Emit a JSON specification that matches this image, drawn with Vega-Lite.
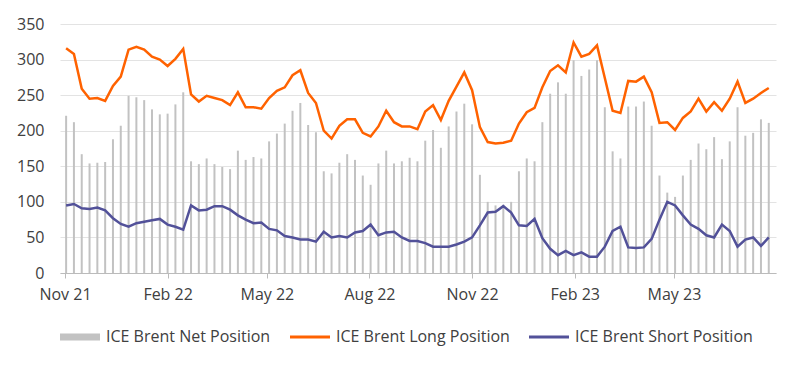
{
  "$schema": "https://vega.github.io/schema/vega-lite/v6.json",
  "width": 716,
  "height": 249,
  "autosize": {"type": "none"},
  "padding": {"left": 60, "top": 24, "right": 24, "bottom": 95},
  "background": "white",
  "config": {
    "view": {"stroke": null},
    "font": "Open Sans",
    "axis": {"labelFont": "Open Sans", "labelColor": "#404040", "labelFontSize": 16}
  },
  "data": {"values": [
    {"date": "2021-11-02", "net": 221, "long": 316, "short": 95},
    {"date": "2021-11-09", "net": 212, "long": 308, "short": 97},
    {"date": "2021-11-16", "net": 167, "long": 259, "short": 91},
    {"date": "2021-11-23", "net": 154, "long": 245, "short": 90},
    {"date": "2021-11-30", "net": 155, "long": 246, "short": 92},
    {"date": "2021-12-07", "net": 156, "long": 242, "short": 88},
    {"date": "2021-12-14", "net": 188, "long": 263, "short": 77},
    {"date": "2021-12-21", "net": 207, "long": 276, "short": 69},
    {"date": "2021-12-28", "net": 249, "long": 314, "short": 65},
    {"date": "2022-01-04", "net": 247, "long": 318, "short": 70},
    {"date": "2022-01-11", "net": 243, "long": 314, "short": 72},
    {"date": "2022-01-18", "net": 230, "long": 304, "short": 74},
    {"date": "2022-01-25", "net": 223, "long": 300, "short": 76},
    {"date": "2022-02-01", "net": 224, "long": 291, "short": 68},
    {"date": "2022-02-08", "net": 237, "long": 301, "short": 65},
    {"date": "2022-02-15", "net": 254, "long": 315, "short": 61},
    {"date": "2022-02-22", "net": 157, "long": 251, "short": 95},
    {"date": "2022-03-01", "net": 153, "long": 241, "short": 88},
    {"date": "2022-03-08", "net": 161, "long": 249, "short": 89},
    {"date": "2022-03-15", "net": 153, "long": 246, "short": 94},
    {"date": "2022-03-22", "net": 149, "long": 243, "short": 94},
    {"date": "2022-03-29", "net": 146, "long": 236, "short": 89},
    {"date": "2022-04-05", "net": 172, "long": 254, "short": 81},
    {"date": "2022-04-12", "net": 159, "long": 233, "short": 75},
    {"date": "2022-04-19", "net": 163, "long": 233, "short": 70},
    {"date": "2022-04-26", "net": 161, "long": 231, "short": 71},
    {"date": "2022-05-03", "net": 185, "long": 246, "short": 62},
    {"date": "2022-05-10", "net": 196, "long": 256, "short": 60},
    {"date": "2022-05-17", "net": 210, "long": 261, "short": 52},
    {"date": "2022-05-24", "net": 228, "long": 278, "short": 50},
    {"date": "2022-05-31", "net": 239, "long": 285, "short": 47},
    {"date": "2022-06-07", "net": 208, "long": 253, "short": 47},
    {"date": "2022-06-14", "net": 198, "long": 239, "short": 44},
    {"date": "2022-06-21", "net": 143, "long": 200, "short": 58},
    {"date": "2022-06-28", "net": 140, "long": 189, "short": 50},
    {"date": "2022-07-05", "net": 155, "long": 207, "short": 52},
    {"date": "2022-07-12", "net": 167, "long": 216, "short": 50},
    {"date": "2022-07-19", "net": 159, "long": 216, "short": 57},
    {"date": "2022-07-26", "net": 137, "long": 197, "short": 59},
    {"date": "2022-08-02", "net": 124, "long": 192, "short": 68},
    {"date": "2022-08-09", "net": 154, "long": 206, "short": 53},
    {"date": "2022-08-16", "net": 172, "long": 228, "short": 57},
    {"date": "2022-08-23", "net": 154, "long": 212, "short": 58},
    {"date": "2022-08-30", "net": 157, "long": 206, "short": 50},
    {"date": "2022-09-06", "net": 162, "long": 206, "short": 45},
    {"date": "2022-09-13", "net": 157, "long": 202, "short": 45},
    {"date": "2022-09-20", "net": 186, "long": 227, "short": 42},
    {"date": "2022-09-27", "net": 201, "long": 236, "short": 37},
    {"date": "2022-10-04", "net": 176, "long": 215, "short": 37},
    {"date": "2022-10-11", "net": 206, "long": 242, "short": 37},
    {"date": "2022-10-18", "net": 227, "long": 262, "short": 40},
    {"date": "2022-10-25", "net": 238, "long": 282, "short": 44},
    {"date": "2022-11-01", "net": 209, "long": 257, "short": 50},
    {"date": "2022-11-08", "net": 138, "long": 205, "short": 67},
    {"date": "2022-11-15", "net": 100, "long": 184, "short": 85},
    {"date": "2022-11-22", "net": 95, "long": 182, "short": 86},
    {"date": "2022-11-29", "net": 96, "long": 183, "short": 94},
    {"date": "2022-12-06", "net": 100, "long": 186, "short": 85},
    {"date": "2022-12-13", "net": 143, "long": 210, "short": 67},
    {"date": "2022-12-20", "net": 161, "long": 226, "short": 66},
    {"date": "2022-12-27", "net": 157, "long": 232, "short": 76},
    {"date": "2023-01-03", "net": 212, "long": 261, "short": 49},
    {"date": "2023-01-10", "net": 252, "long": 284, "short": 34},
    {"date": "2023-01-17", "net": 268, "long": 292, "short": 25},
    {"date": "2023-01-24", "net": 252, "long": 282, "short": 31},
    {"date": "2023-01-31", "net": 299, "long": 324, "short": 25},
    {"date": "2023-02-07", "net": 277, "long": 304, "short": 29},
    {"date": "2023-02-14", "net": 286, "long": 308, "short": 23},
    {"date": "2023-02-21", "net": 299, "long": 320, "short": 23},
    {"date": "2023-02-28", "net": 233, "long": 274, "short": 37},
    {"date": "2023-03-07", "net": 171, "long": 228, "short": 59},
    {"date": "2023-03-14", "net": 161, "long": 225, "short": 65},
    {"date": "2023-03-21", "net": 234, "long": 270, "short": 36},
    {"date": "2023-03-28", "net": 234, "long": 269, "short": 35},
    {"date": "2023-04-04", "net": 241, "long": 276, "short": 36},
    {"date": "2023-04-11", "net": 207, "long": 254, "short": 48},
    {"date": "2023-04-18", "net": 137, "long": 211, "short": 75},
    {"date": "2023-04-25", "net": 113, "long": 212, "short": 100},
    {"date": "2023-05-02", "net": 107, "long": 201, "short": 95},
    {"date": "2023-05-09", "net": 137, "long": 218, "short": 81},
    {"date": "2023-05-16", "net": 159, "long": 227, "short": 68},
    {"date": "2023-05-23", "net": 182, "long": 245, "short": 62},
    {"date": "2023-05-30", "net": 174, "long": 227, "short": 53},
    {"date": "2023-06-06", "net": 191, "long": 240, "short": 50},
    {"date": "2023-06-13", "net": 160, "long": 228, "short": 68},
    {"date": "2023-06-20", "net": 185, "long": 245, "short": 59},
    {"date": "2023-06-27", "net": 233, "long": 269, "short": 37},
    {"date": "2023-07-04", "net": 193, "long": 239, "short": 47},
    {"date": "2023-07-11", "net": 197, "long": 245, "short": 50},
    {"date": "2023-07-18", "net": 216, "long": 253, "short": 38},
    {"date": "2023-07-25", "net": 211, "long": 260, "short": 50}
  ]},
  "encoding": {
    "x": {
      "field": "date",
      "type": "temporal",
      "scale": {
        "type": "utc",
        "domain": [
          {"year": 2021, "month": 11, "date": 1, "utc": true},
          {"year": 2023, "month": 7, "date": 27, "utc": true}
        ]
      },
      "axis": {
        "title": null,
        "grid": false,
        "values": [
          {"year": 2021, "month": 11, "date": 1, "utc": true},
          {"year": 2022, "month": 2, "date": 1, "utc": true},
          {"year": 2022, "month": 5, "date": 1, "utc": true},
          {"year": 2022, "month": 8, "date": 1, "utc": true},
          {"year": 2022, "month": 11, "date": 1, "utc": true},
          {"year": 2023, "month": 2, "date": 1, "utc": true},
          {"year": 2023, "month": 5, "date": 1, "utc": true}
        ],
        "format": "%b %y",
        "domainColor": "#bbbbbb",
        "tickColor": "#bbbbbb",
        "tickSize": 5,
        "labelPadding": 8,
        "labelFlush": false,
        "labelOverlap": false
      }
    }
  },
  "layer": [
    {
      "mark": {"type": "bar", "size": 2},
      "encoding": {
        "y": {
          "field": "net",
          "type": "quantitative",
          "scale": {"domain": [0, 350]},
          "axis": {
            "title": null,
            "values": [0, 50, 100, 150, 200, 250, 300, 350],
            "grid": true,
            "gridColor": "#e3e3e3",
            "domain": false,
            "ticks": false,
            "labelPadding": 16,
            "labelOverlap": false
          }
        },
        "color": {"datum": "ICE Brent Net Position"}
      }
    },
    {
      "mark": {"type": "line", "strokeWidth": 2.5},
      "encoding": {
        "y": {
          "field": "long",
          "type": "quantitative",
          "axis": {
            "title": null,
            "values": [0, 50, 100, 150, 200, 250, 300, 350],
            "grid": true,
            "gridColor": "#e3e3e3",
            "domain": false,
            "ticks": false,
            "labelPadding": 16,
            "labelOverlap": false
          }
        },
        "color": {"datum": "ICE Brent Long Position"}
      }
    },
    {
      "mark": {"type": "line", "strokeWidth": 2.5},
      "encoding": {
        "y": {
          "field": "short",
          "type": "quantitative",
          "axis": {
            "title": null,
            "values": [0, 50, 100, 150, 200, 250, 300, 350],
            "grid": true,
            "gridColor": "#e3e3e3",
            "domain": false,
            "ticks": false,
            "labelPadding": 16,
            "labelOverlap": false
          }
        },
        "color": {
          "datum": "ICE Brent Short Position",
          "scale": {
            "domain": ["ICE Brent Net Position", "ICE Brent Long Position", "ICE Brent Short Position"],
            "range": ["#c2c2c2", "#ff6200", "#525199"]
          },
          "legend": {
            "title": null,
            "orient": "none",
            "direction": "horizontal",
            "legendX": 0,
            "legendY": 293,
            "labelFont": "Open Sans",
            "labelFontSize": 16,
            "labelLimit": 400,
            "labelColor": "#404040",
            "labelOffset": 6,
            "columnPadding": 19,
            "symbolSize": 1600,
            "encode": {
              "symbols": {
                "update": {
                  "shape": {"signal": "datum.value === 'ICE Brent Net Position' ? 'M-1,-0.18H1V0.18H-1Z' : 'M-1,-0.075H1V0.075H-1Z'"},
                  "fill": {"signal": "datum.value === 'ICE Brent Net Position' ? '#aaaaaa' : scale('color', datum.value)"},
                  "stroke": {"value": "transparent"},
                  "strokeWidth": {"value": 0},
                  "size": {"value": 1600}
                }
              }
            }
          }
        }
      }
    }
  ]
}
